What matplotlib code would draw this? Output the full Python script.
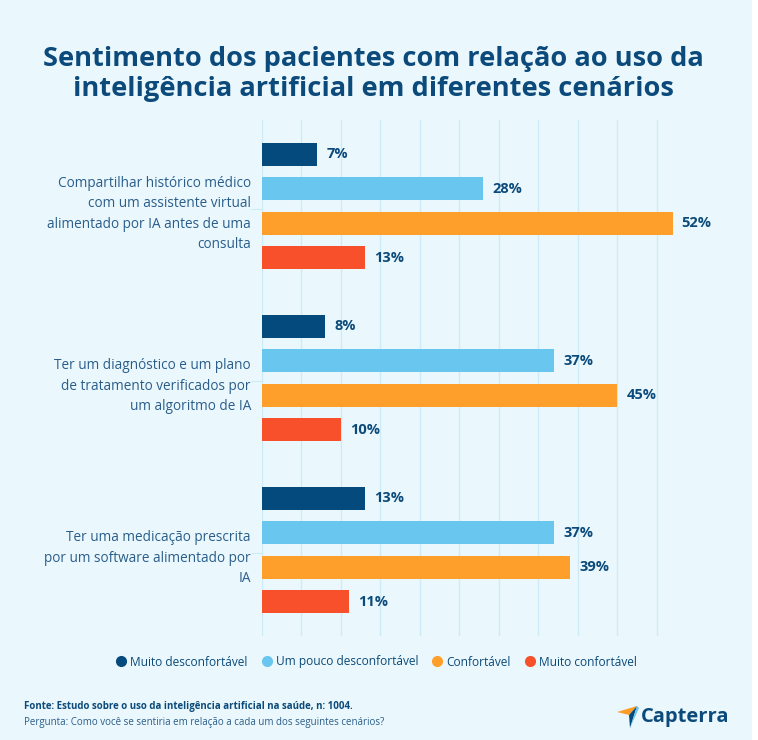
import numpy as np
import matplotlib.pyplot as plt
from matplotlib.patches import Rectangle, Polygon

plt.rcParams['font.family'] = ['Open Sans', 'DejaVu Sans']

title = "Sentimento dos pacientes com relação ao uso da\ninteligência artificial em diferentes cenários"
scenarios = ["Compartilhar histórico médico\ncom um assistente virtual\nalimentado por IA antes de uma\nconsulta",
             "Ter um diagnóstico e um plano\nde tratamento verificados por\num algoritmo de IA",
             "Ter uma medicação prescrita\npor um software alimentado por\nIA"]
series = ["Muito desconfortável", "Um pouco desconfortável", "Confortável", "Muito confortável"]
muito_desconf = [7, 8, 13]
pouco_desconf = [28, 37, 37]
confortavel = [52, 45, 39]
muito_conf = [13, 10, 11]
colors = ["#054a7d", "#69c6ee", "#ff9f2b", "#f7502b"]

bg = "#eaf8fd"
navy = "#0b4a7a"
txt = "#2a5d8a"

fig = plt.figure(figsize=(7.58, 7.40), dpi=100, facecolor=bg)
fig.patches.append(Rectangle((752/758, 0), 6/758, 1, transform=fig.transFigure,
                             facecolor="white", edgecolor="none", zorder=-1))

ax = fig.add_axes([262/758, 1 - 636/740, (720 - 262)/758, 516/740])
ax.set_facecolor(bg)

values = [muito_desconf, pouco_desconf, confortavel, muito_conf]
group_pos = np.arange(len(scenarios)) * 5
for i, vals in enumerate(values):
    ypos = group_pos + i
    ax.barh(ypos, vals, height=0.66, color=colors[i], zorder=3)
    for y, v in zip(ypos, vals):
        ax.text(v + 1.15, y, f"{v}%", va="center", ha="left", fontsize=10.5,
                fontweight="bold", color=navy)

ax.set_xlim(0, 58)
ax.set_ylim(14, -1)
ax.set_xticks(np.arange(0, 51, 5))
ax.xaxis.grid(True, color="#cdeaf7", linewidth=1, zorder=0)
ax.tick_params(axis="x", length=0, labelbottom=False)
ax.set_yticks(group_pos + 1.6)
ax.set_yticklabels(scenarios, fontsize=9.8, color=txt, linespacing=1.5)
ax.tick_params(axis="y", length=8, color="#cdeaf7", pad=0)
for s in ax.spines.values():
    s.set_visible(False)

fig.text(0.493, 1 - 74/740, title, ha="center", va="center", fontsize=19.6,
         fontweight="bold", color=navy, linespacing=1.25)

# legend
handles = [plt.Line2D([], [], marker="o", linestyle="", markersize=7,
                      color=c) for c in colors]
fig.legend(handles, series, loc="center", bbox_to_anchor=(0.497, 1 - 662/740),
           ncol=4, frameon=False, fontsize=8.6, handlelength=0.8, handletextpad=0.35,
           columnspacing=1.2, labelcolor=navy)

fig.text(24/758, 1 - 707/740, "Fonte: Estudo sobre o uso da inteligência artificial na saúde, n: 1004.",
         fontsize=7, fontweight="bold", color=navy, va="center")
fig.text(24/758, 1 - 722/740, "Pergunta: Como você se sentiria em relação a cada um dos seguintes cenários?",
         fontsize=7, color=txt, va="center")

# logo
lx, ly = 617/758, 1 - 714/740
sx, sy = 1/758, 1/740
fig.patches.append(Polygon([(lx, ly + 2*sy), (lx + 20*sx, ly + 8*sy), (lx + 12*sx, ly - 1*sy)],
                           closed=True, transform=fig.transFigure, facecolor="#ff9d28", edgecolor="none"))
fig.patches.append(Polygon([(lx + 12*sx, ly - 1*sy), (lx + 20*sx, ly + 8*sy), (lx + 13*sx, ly - 14*sy)],
                           closed=True, transform=fig.transFigure, facecolor="#054a7d", edgecolor="none"))
fig.patches.append(Polygon([(lx + 20*sx, ly + 8*sy), (lx + 22*sx, ly + 6*sy), (lx + 13*sx, ly - 14*sy)],
                           closed=True, transform=fig.transFigure, facecolor="#69c6ee", edgecolor="none"))
fig.text(641/758, 1 - 717/740, "Capterra", fontsize=14.5, fontweight="bold",
         color=navy, va="center", ha="left")

fig.savefig("out.png", dpi=100, facecolor=bg)
